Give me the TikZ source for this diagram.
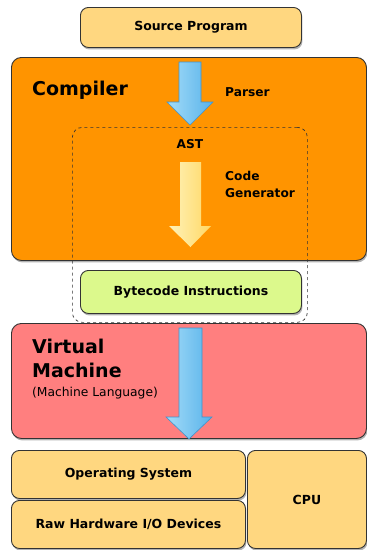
\documentclass[tikz,border=0pt]{standalone}
\usepackage{fontspec}
\setmainfont{DejaVu Sans}
\usetikzlibrary{shadows}

\definecolor{paleorange}{HTML}{FFD780}
\definecolor{compilerorange}{HTML}{FF9400}
\definecolor{vmred}{HTML}{FF7F7F}
\definecolor{bytegreen}{HTML}{DCF98C}
\definecolor{edgegray}{HTML}{333333}
\definecolor{bluelight}{HTML}{A3DCF8}
\definecolor{bluedark}{HTML}{58B2EA}
\definecolor{blueedge}{HTML}{3F93CC}
\definecolor{yellowlight}{HTML}{FFF2B8}
\definecolor{yellowdark}{HTML}{FFD866}

\tikzset{
  box/.style={draw=edgegray, line width=0.9pt, rounded corners=8pt,
    anchor=north west, inner sep=0pt,
    drop shadow={shadow xshift=1pt, shadow yshift=-2pt, opacity=0.3, fill=black}},
  boxlabel/.style={font=\fontsize{12.5}{15}\selectfont\bfseries},
  biglabel/.style={font=\fontsize{19}{22}\selectfont\bfseries, inner sep=0pt},
  sidelabel/.style={font=\fontsize{12.2}{14}\selectfont\bfseries, inner sep=0pt},
  groupbox/.style={draw=edgegray, line width=0.7pt, dashed, rounded corners=10pt,
    anchor=north west, inner sep=0pt},
  bluearrow/.style={left color=bluelight, right color=bluedark, draw=blueedge, line width=0.6pt},
  yellowarrow/.style={left color=yellowlight, right color=yellowdark, draw=none}
}

\begin{document}
\begin{tikzpicture}[x=1pt, y=-1pt]
\useasboundingbox (0,0) rectangle (367,550);

% source program
\node[box, fill=paleorange, minimum width=221pt, minimum height=40pt] (src) at (80,7) {};
\node[boxlabel] (srct) at (src.center) {Source Program};

% compiler block
\node[box, fill=compilerorange, minimum width=355pt, minimum height=203pt, rounded corners=10pt] (comp) at (11,57) {};
\node[biglabel, anchor=base west] (compt) at (32,95) {Compiler};
\node[sidelabel, anchor=base west] (parser) at (225,96) {Parser};

% parser arrow
\shadedraw[bluearrow] (179,62) -- (201,62) -- (201,102) -- (213,102) -- (190,125)
  -- (167,102) -- (179,102) -- cycle;

% AST / code generation group
\node[groupbox, minimum width=235pt, minimum height=195pt] (grp) at (72,127) {};
\node[sidelabel, anchor=base] (ast) at (190,148) {AST};
\node[sidelabel, anchor=base west] (code) at (225,180) {Code};
\node[sidelabel, anchor=base west] (gen) at (225,197) {Generator};

% code generator arrow
\shade[yellowarrow] (180,162) -- (201,162) -- (201,226) -- (211,226) -- (190.5,247)
  -- (169,226) -- (180,226) -- cycle;

% bytecode
\node[box, fill=bytegreen, minimum width=221pt, minimum height=43pt] (bc) at (80,270) {};
\node[boxlabel] (bct) at (bc.center) {Bytecode Instructions};

% virtual machine block
\node[box, fill=vmred, minimum width=355pt, minimum height=115pt, rounded corners=10pt] (vm) at (11,323) {};
\node[biglabel, anchor=base west] (vm1) at (32,353) {Virtual};
\node[biglabel, anchor=base west] (vm2) at (32,377) {Machine};
\node[font=\fontsize{12.3}{14}\selectfont, inner sep=0pt, anchor=base west] (vm3) at (32,396) {(Machine Language)};

% execution arrow
\shadedraw[bluearrow] (179,328) -- (202,328) -- (202,417) -- (212,417) -- (189,439)
  -- (166,417) -- (179,417) -- cycle;

% hardware layer
\node[box, fill=paleorange, minimum width=234pt, minimum height=48pt] (os) at (11,450) {};
\node[boxlabel] (ost) at (os.center) {Operating System};
\node[box, fill=paleorange, minimum width=234pt, minimum height=48pt] (hw) at (11,500) {};
\node[boxlabel] (hwt) at (hw.center) {Raw Hardware I/O Devices};
\node[box, fill=paleorange, minimum width=119pt, minimum height=98pt] (cpu) at (247,450) {};
\node[boxlabel] (cput) at (cpu.center) {CPU};
\end{tikzpicture}
\end{document}
